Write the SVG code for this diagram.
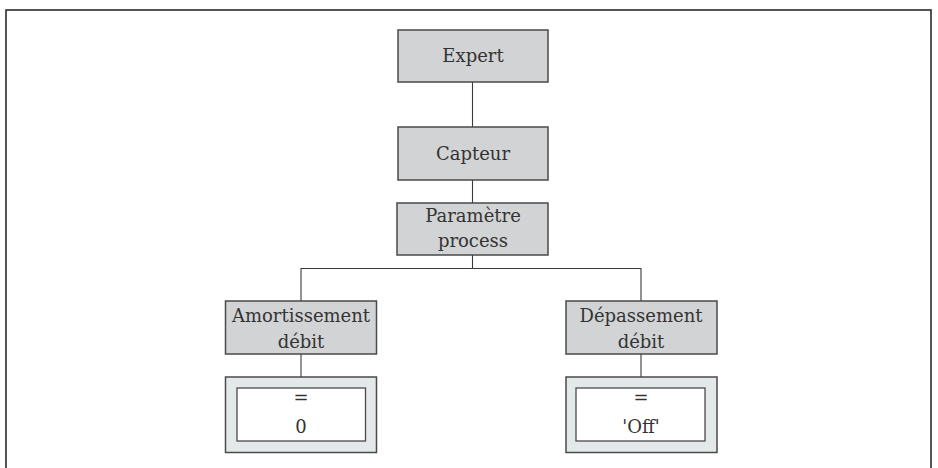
<svg xmlns="http://www.w3.org/2000/svg" width="938" height="468" viewBox="0 0 938 468">
  <style>
    .frame { fill: none; stroke: #2b2b2b; stroke-width: 1.6; }
    .menu { fill: #d2d3d5; stroke: #4a4a4a; stroke-width: 1.5; }
    .outer { fill: #e3e8e9; stroke: #4a4a4a; stroke-width: 1.5; }
    .inner { fill: #ffffff; stroke: #4a4a4a; stroke-width: 1.3; }
    .link { fill: none; stroke: #3a3a3a; stroke-width: 1.1; }
    text { font-family: "DejaVu Serif", "Liberation Serif", serif; font-size: 18px; fill: #333333; text-anchor: middle; }
  </style>
  <rect class="frame" x="6" y="10" width="925" height="470"/>
  <g id="connectors">
    <line class="link" x1="472.5" y1="82" x2="472.5" y2="127"/>
    <line class="link" x1="472.5" y1="180" x2="472.5" y2="203"/>
    <line class="link" x1="472.5" y1="255" x2="472.5" y2="268.5"/>
    <polyline class="link" points="301,301 301,268.5 641,268.5 641,301"/>
    <line class="link" x1="301" y1="354" x2="301" y2="377"/>
    <line class="link" x1="641" y1="354" x2="641" y2="377"/>
  </g>
  <g id="expert">
    <rect class="menu" x="398" y="30" width="150" height="52"/>
    <text x="473" y="62">Expert</text>
  </g>
  <g id="capteur">
    <rect class="menu" x="398" y="127" width="150" height="53"/>
    <text x="473" y="160">Capteur</text>
  </g>
  <g id="parametre-process">
    <rect class="menu" x="397" y="203" width="151" height="52"/>
    <text x="473" y="222">Paramètre</text>
    <text x="473" y="247">process</text>
  </g>
  <g id="amortissement-debit">
    <rect class="menu" x="225.5" y="301" width="151" height="53"/>
    <text x="301" y="322">Amortissement</text>
    <text x="301" y="348">débit</text>
  </g>
  <g id="depassement-debit">
    <rect class="menu" x="566" y="301" width="151" height="53"/>
    <text x="641" y="322">Dépassement</text>
    <text x="641" y="348">débit</text>
  </g>
  <g id="value-0">
    <rect class="outer" x="225.5" y="377" width="151" height="75.5"/>
    <rect class="inner" x="237" y="388" width="128.5" height="53"/>
    <text x="301" y="404">=</text>
    <text x="301" y="433">0</text>
  </g>
  <g id="value-off">
    <rect class="outer" x="566" y="377" width="151" height="75.5"/>
    <rect class="inner" x="576" y="388" width="129" height="53"/>
    <text x="641" y="404">=</text>
    <text x="641" y="433">'Off'</text>
  </g>
</svg>
